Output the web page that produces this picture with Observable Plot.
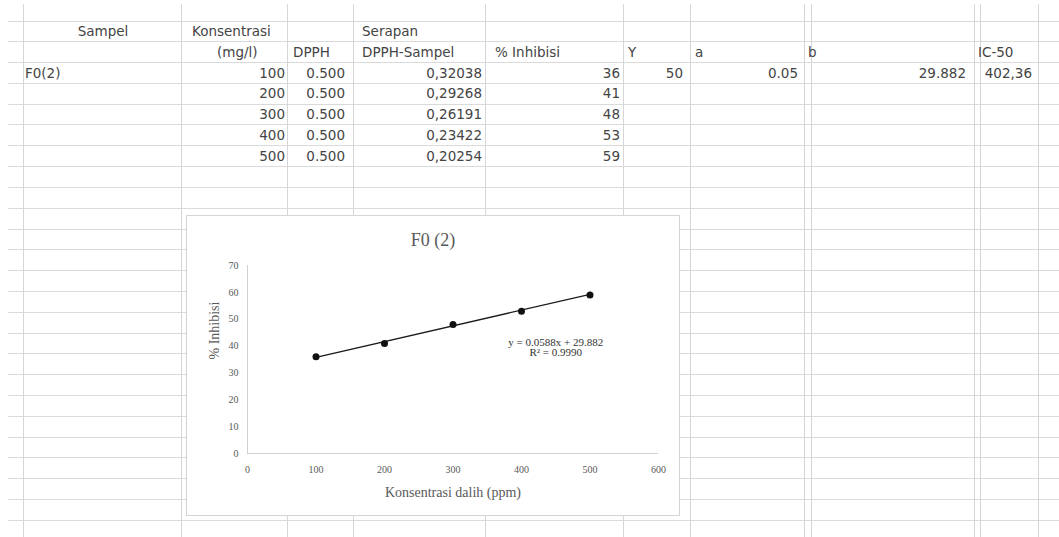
<!DOCTYPE html>
<html>
<head>
<meta charset="utf-8">
<script src="https://cdn.jsdelivr.net/npm/d3@7"></script>
<script src="https://cdn.jsdelivr.net/npm/@observablehq/plot@0.6"></script>
<style>
  html, body { margin: 0; padding: 0; background: #fff; }
  #sheet { position: relative; width: 1059px; height: 537px; overflow: hidden; background: #fff; }
  .hl { position: absolute; left: 8px; right: 0; height: 1px; background: #dadada; }
  .vl { position: absolute; top: 4px; bottom: 0; width: 1px; background: #d6d6d6; }
  .cell { position: absolute; font-family: "DejaVu Sans", sans-serif; font-size: 13.5px; color: #444; white-space: nowrap; line-height: 20px; height: 20px; }
  #chart { position: absolute; left: 186px; top: 215px; width: 494px; height: 301px; background: #fff; border: 1px solid #d4d4d4; box-sizing: border-box; }
  #chart svg { display: block; }
</style>
</head>
<body>
<div id="sheet"></div>
<script>
// Worksheet contents
const sampleName = "F0(2)";
const headerRow1 = ["Sampel", "Konsentrasi", "Serapan"];
const headerRow2 = ["(mg/l)", "DPPH", "DPPH-Sampel", "% Inhibisi", "Y", "a", "b", "IC-50"];
const concentration = [100, 200, 300, 400, 500];
const dpph = [0.5, 0.5, 0.5, 0.5, 0.5];
const absorbance = ["0,32038", "0,29268", "0,26191", "0,23422", "0,20254"];
const inhibition = [36, 41, 48, 53, 59];
const targetY = 50;
const coefA = 0.05;
const coefB = 29.882;
const ic50 = "402,36";

// Chart texts and trendline coefficients
const chartTitle = "F0 (2)";
const xTitle = "Konsentrasi dalih (ppm)";
const yTitle = "% Inhibisi";
const xTicks = [0, 100, 200, 300, 400, 500, 600];
const yTicks = [0, 10, 20, 30, 40, 50, 60, 70];
const trendSlope = 0.0588;
const trendIntercept = 29.882;
const trendR2 = "0.9990";

const sheet = document.getElementById("sheet");

// grid lines
const rowTop = 20.5, rowH = 20.8;
for (let y = rowTop; y < 537; y += rowH) {
  const d = document.createElement("div");
  d.className = "hl"; d.style.top = Math.round(y) + "px";
  sheet.appendChild(d);
}
[23, 181, 287, 353, 485, 623, 690, 804, 811, 974, 980, 1038].forEach(x => {
  const d = document.createElement("div");
  d.className = "vl"; d.style.left = x + "px";
  sheet.appendChild(d);
});

function rowY(r) { return rowTop + rowH * r + rowH / 2 - 10; }
function cell(text, r, x, align) {
  const d = document.createElement("div");
  d.className = "cell";
  d.textContent = text;
  d.style.top = rowY(r) + "px";
  if (align === "right") { d.style.left = (x - 200) + "px"; d.style.width = "200px"; d.style.textAlign = "right"; }
  else if (align === "center") { d.style.left = (x - 100) + "px"; d.style.width = "200px"; d.style.textAlign = "center"; }
  else d.style.left = x + "px";
  sheet.appendChild(d);
}

// header rows
cell(headerRow1[0], 0, 103, "center");
cell(headerRow1[1], 0, 192);
cell(headerRow1[2], 0, 362);
const h2x = [[217], [293], [362], [495], [628], [695], [808], [978]];
headerRow2.forEach((t, i) => cell(t, 1, h2x[i][0]));

// data rows
cell(sampleName, 2, 25);
const fmt3 = d3.format(".3f");
concentration.forEach((c, i) => {
  const r = 2 + i;
  cell(String(c), r, 285, "right");
  cell(fmt3(dpph[i]), r, 345, "right");
  cell(absorbance[i], r, 482, "right");
  cell(String(inhibition[i]), r, 620, "right");
});
cell(String(targetY), 2, 683, "right");
cell(String(coefA), 2, 798, "right");
cell(String(coefB), 2, 966, "right");
cell(ic50, 2, 1032, "right");

// embedded chart
const points = concentration.map((c, i) => ({x: c, y: inhibition[i]}));
const xMin = d3.min(concentration), xMax = d3.max(concentration);
const trend = [xMin, xMax].map(x => ({x, y: trendSlope * x + trendIntercept}));
const eqLabel = `y = ${trendSlope}x + ${trendIntercept}\nR² = ${trendR2}`;

const chartBox = document.createElement("div");
chartBox.id = "chart";
sheet.appendChild(chartBox);

const serif = "'Liberation Serif', 'DejaVu Serif', serif";
const chart = Plot.plot({
  width: 492,
  height: 299,
  marginLeft: 60,
  marginRight: 21,
  marginTop: 49,
  marginBottom: 62,
  style: {fontFamily: serif, fontSize: "10px", color: "#595959", background: "white"},
  x: {domain: [0, 600]},
  y: {domain: [0, 70]},
  marks: [
    Plot.ruleY([0], {stroke: "#d0d0d0", strokeWidth: 1}),
    Plot.ruleX([0], {stroke: "#d0d0d0", strokeWidth: 1}),
    Plot.axisX({ticks: xTicks, tickSize: 0, tickPadding: 12, label: null, tickFormat: d3.format("d")}),
    Plot.axisY({ticks: yTicks, tickSize: 0, tickPadding: 9, label: null, tickFormat: d3.format("d")}),
    Plot.line(trend, {x: "x", y: "y", stroke: "#1a1a1a", strokeWidth: 1.3}),
    Plot.dot(points, {x: "x", y: "y", r: 3.5, fill: "#111", stroke: "none"}),
    Plot.text([eqLabel], {x: 450, y: 39.5, text: d => d, fontSize: 11, fill: "#333", lineHeight: 0.95, textAnchor: "middle"}),
    Plot.text([chartTitle], {frameAnchor: "top", dx: -20, dy: -25, fontSize: 18, fill: "#595959", lineAnchor: "middle"}),
    Plot.text([xTitle], {frameAnchor: "bottom", dy: 39, fontSize: 14, fill: "#595959", lineAnchor: "middle"}),
    Plot.text([yTitle], {frameAnchor: "left", dx: -33, rotate: -90, fontSize: 14, fill: "#595959", lineAnchor: "middle"})
  ]
});
chartBox.appendChild(chart);
</script>
</body>
</html>
